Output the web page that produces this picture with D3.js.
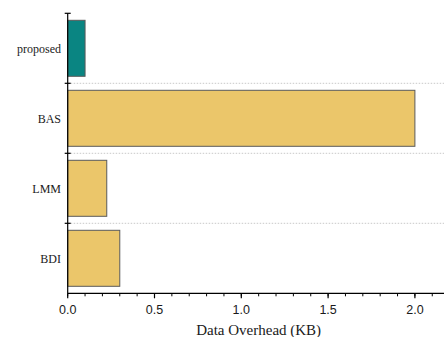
<!DOCTYPE html>
<html>
<head>
<meta charset="utf-8">
<script src="https://cdn.jsdelivr.net/npm/d3@7"></script>
<style>
  html, body { margin: 0; padding: 0; background: #fff; }
  svg { display: block; }
  .serif { font-family: "Liberation Serif", "DejaVu Serif", serif; }
  .sans { font-family: "Liberation Sans", Arial, sans-serif; }
</style>
</head>
<body>
<script>
// Data overhead per scheme (KB)
const categories = ["proposed", "BAS", "LMM", "BDI"];
const overheadKB = [0.1, 2.0, 0.225, 0.3];
const barColors = ["#0a8582", "#ebc66a", "#ebc66a", "#ebc66a"];
const xTicks = [0.0, 0.5, 1.0, 1.5, 2.0];
const xTitle = "Data Overhead (KB)";

const W = 444, H = 337;
const plotLeft = 67.7, plotTop = 13.3, plotBottom = 293.3;

const svg = d3.select("body").append("svg")
  .attr("width", W).attr("height", H);

const x = d3.scaleLinear().domain([0, 2.2]).range([plotLeft, plotLeft + 2.2 * 173.6]);
const y = d3.scaleBand().domain(categories).range([plotTop, plotBottom])
  .paddingInner(0.2).paddingOuter(0.1);

// Dotted separators between categories
const bounds = categories.slice(1).map(c => y(c) - y.step() * y.paddingInner() / 2);
svg.append("g").selectAll("line").data(bounds).join("line")
  .attr("x1", plotLeft).attr("x2", W)
  .attr("y1", d => d).attr("y2", d => d)
  .attr("stroke", "#c8c8c8").attr("stroke-width", 1)
  .attr("stroke-dasharray", "1.5,1.5");

// Bars
svg.append("g").selectAll("rect").data(categories).join("rect")
  .attr("x", x(0))
  .attr("y", d => y(d))
  .attr("width", (d, i) => x(overheadKB[i]) - x(0))
  .attr("height", y.bandwidth())
  .attr("fill", (d, i) => barColors[i])
  .attr("stroke", "#5a5a5a").attr("stroke-width", 1);

// X axis: labelled major ticks plus minor ticks every 0.1
const xAxis = svg.append("g").attr("transform", `translate(0,${plotBottom})`);
xAxis.append("line").attr("x1", plotLeft).attr("x2", W)
  .attr("stroke", "#000").attr("stroke-width", 1.2);
const minor = d3.range(0, 2.21, 0.1);
xAxis.selectAll("line.minor").data(minor).join("line").attr("class", "minor")
  .attr("x1", d => x(d)).attr("x2", d => x(d))
  .attr("y1", 0).attr("y2", 3)
  .attr("stroke", "#000").attr("stroke-width", 1);
xAxis.selectAll("line.major").data(xTicks).join("line").attr("class", "major")
  .attr("x1", d => x(d)).attr("x2", d => x(d))
  .attr("y1", 0).attr("y2", 5)
  .attr("stroke", "#000").attr("stroke-width", 1.2);
xAxis.selectAll("text").data(xTicks).join("text")
  .attr("class", "sans")
  .attr("x", d => x(d)).attr("y", 20.5)
  .attr("text-anchor", "middle")
  .attr("font-size", 12.5).attr("fill", "#1a1a1a")
  .text(d => d3.format(".1f")(d));

svg.append("text")
  .attr("class", "serif")
  .attr("x", (x.range()[0] + x.range()[1]) / 2).attr("y", 335)
  .attr("text-anchor", "middle")
  .attr("font-size", 15).attr("fill", "#1a1a1a")
  .text(xTitle);

// Y axis with ticks on the category boundaries
const yAxis = svg.append("g");
yAxis.append("line").attr("x1", plotLeft).attr("x2", plotLeft)
  .attr("y1", plotTop).attr("y2", plotBottom)
  .attr("stroke", "#000").attr("stroke-width", 1.2);
yAxis.selectAll("line.tick").data([plotTop, ...bounds]).join("line").attr("class", "tick")
  .attr("x1", plotLeft - 3).attr("x2", plotLeft + 3)
  .attr("y1", d => d).attr("y2", d => d)
  .attr("stroke", "#000").attr("stroke-width", 1.2);
yAxis.selectAll("text").data(categories).join("text")
  .attr("class", "serif")
  .attr("x", 61).attr("y", d => y(d) + y.bandwidth() / 2)
  .attr("dy", "0.35em")
  .attr("text-anchor", "end")
  .attr("font-size", 12).attr("fill", "#1a1a1a")
  .text(d => d);
</script>
</body>
</html>
